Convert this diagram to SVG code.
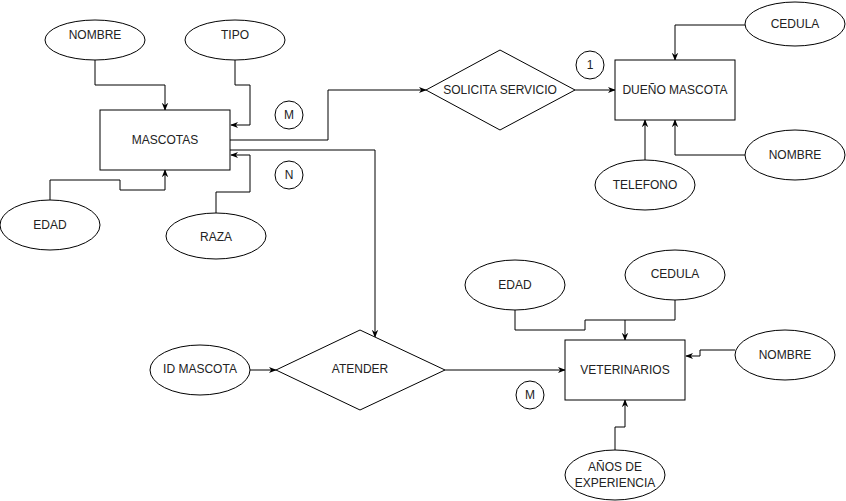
<svg xmlns="http://www.w3.org/2000/svg" width="846" height="501" viewBox="0 0 846 501">
<style>
.s{fill:#fff;stroke:#000;stroke-width:1}
.t{font-family:"Liberation Sans",Arial,sans-serif;font-size:12px;fill:#222;text-anchor:middle;dominant-baseline:central}
.e{fill:none;stroke:#000;stroke-width:1;marker-end:url(#a)}
.l{fill:none;stroke:#000;stroke-width:1}
</style>
<defs>
<marker id="a" viewBox="0 0 10 10" refX="9" refY="5" markerWidth="8" markerHeight="8" markerUnits="userSpaceOnUse" orient="auto">
<path d="M0,1 L10,5 L0,9 L3,5 z" fill="#000"/>
</marker>
</defs>
<rect width="846" height="501" fill="#fff"/>
<g id="connectors">
<path class="e" d="M95,60 V85 H165 V110"/>
<path class="e" d="M235,60 V85 H250 V125 H231"/>
<path class="e" d="M50,200 V180 H120 V190 H165 V170"/>
<path class="e" d="M216,213 V192 H250 V155 H231"/>
<path class="e" d="M230,140 H328 V90 H426"/>
<path class="e" d="M230,150 H375 V337"/>
<path class="e" d="M575,90 H615"/>
<path class="e" d="M745,25 H675 V60"/>
<path class="e" d="M745,155 H675 V120"/>
<path class="e" d="M645,160 V120"/>
<path class="e" d="M250,370 H276"/>
<path class="e" d="M445,370 H565"/>
<path class="e" d="M515,310 V330 H585 V320 H625 V340"/>
<path class="l" d="M675,300 V320 H625"/>
<path class="e" d="M735,350 H700 V356 H686"/>
<path class="e" d="M615,450 V427 H625 V400"/>
</g>
<g id="mascotas"><rect class="s" x="100" y="110" width="130" height="60"/><text class="t" x="165" y="140">MASCOTAS</text></g>
<g id="nombre1"><ellipse class="s" cx="95" cy="40" rx="50" ry="20"/><text class="t" x="95" y="35">NOMBRE</text></g>
<g id="tipo"><ellipse class="s" cx="235" cy="40" rx="50" ry="20"/><text class="t" x="235" y="35">TIPO</text></g>
<g id="edad1"><ellipse class="s" cx="50" cy="225" rx="50" ry="25"/><text class="t" x="50" y="225">EDAD</text></g>
<g id="raza"><ellipse class="s" cx="216" cy="236" rx="50" ry="23"/><text class="t" x="216" y="237">RAZA</text></g>
<g id="cM1"><circle class="s" cx="289" cy="115" r="14"/><text class="t" x="289" y="115">M</text></g>
<g id="cN"><circle class="s" cx="289" cy="175" r="14"/><text class="t" x="289" y="175">N</text></g>
<g id="solicita"><polygon class="s" points="500,50 575,90 500,130 426,90"/><text class="t" x="500" y="90">SOLICITA SERVICIO</text></g>
<g id="c1"><circle class="s" cx="590" cy="65" r="14"/><text class="t" x="590" y="65">1</text></g>
<g id="dueno"><rect class="s" x="615" y="60" width="120" height="60"/><text class="t" x="675" y="90">DUEÑO MASCOTA</text></g>
<g id="cedula1"><ellipse class="s" cx="795" cy="24" rx="50" ry="22"/><text class="t" x="795" y="24">CEDULA</text></g>
<g id="nombre2"><ellipse class="s" cx="795" cy="155" rx="50" ry="25"/><text class="t" x="795" y="155">NOMBRE</text></g>
<g id="telefono"><ellipse class="s" cx="645" cy="185" rx="50" ry="25"/><text class="t" x="645" y="185">TELEFONO</text></g>
<g id="atender"><polygon class="s" points="360,330 445,370 360,410 276,370"/><text class="t" x="360" y="369">ATENDER</text></g>
<g id="idmascota"><ellipse class="s" cx="200" cy="370" rx="50" ry="25"/><text class="t" x="200" y="369">ID MASCOTA</text></g>
<g id="cM2"><circle class="s" cx="530" cy="395" r="14"/><text class="t" x="530" y="395">M</text></g>
<g id="veterinarios"><rect class="s" x="565" y="340" width="120" height="60"/><text class="t" x="625" y="370">VETERINARIOS</text></g>
<g id="edad2"><ellipse class="s" cx="515" cy="285" rx="50" ry="25"/><text class="t" x="515" y="285">EDAD</text></g>
<g id="cedula2"><ellipse class="s" cx="675" cy="275" rx="50" ry="25"/><text class="t" x="675" y="274">CEDULA</text></g>
<g id="nombre3"><ellipse class="s" cx="785" cy="355" rx="50" ry="25"/><text class="t" x="785" y="355">NOMBRE</text></g>
<g id="anos"><ellipse class="s" cx="615" cy="475" rx="50" ry="25"/><text class="t" x="615" y="467">AÑOS DE</text><text class="t" x="615" y="483">EXPERIENCIA</text></g>
</svg>
